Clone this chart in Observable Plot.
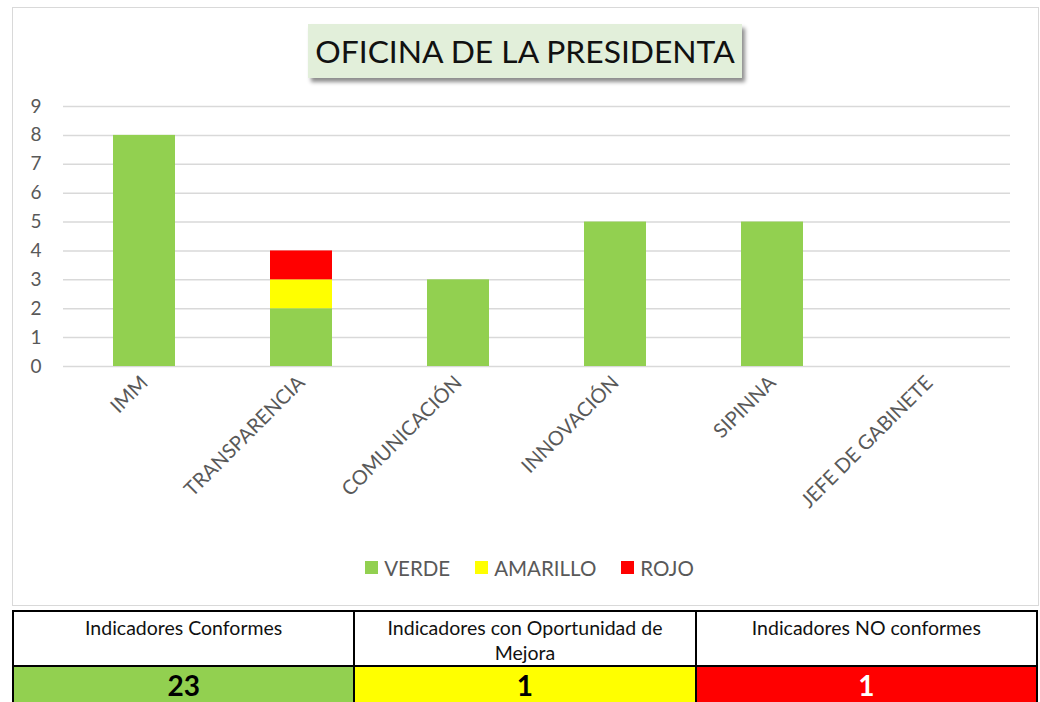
<!DOCTYPE html>
<html><head><meta charset="utf-8">
<script src="https://cdn.jsdelivr.net/npm/d3@7"></script>
<script src="https://cdn.jsdelivr.net/npm/@observablehq/plot@0.6"></script>
<style>
body{margin:0;background:#fff;font-family:Lato,"Open Sans",sans-serif;}
#wrap{position:relative;width:1040px;height:702px;overflow:hidden;}
#frame{position:absolute;left:12px;top:7px;width:1027px;height:599px;border:1.5px solid #d9d9d9;box-sizing:border-box;}
#chart{position:absolute;left:0;top:0;}
#title{position:absolute;left:308px;top:24px;width:434px;height:54px;background:#E2EFDA;box-shadow:3px 4px 4px rgba(0,0,0,0.45);display:flex;align-items:center;justify-content:center;font-size:31.8px;color:#111;white-space:nowrap;}
#legend{position:absolute;left:0;top:551px;width:1084px;display:flex;justify-content:center;}
.lg-swatch{margin-right:25px !important;}
.lg-swatch>svg{margin-right:6px !important;}
#summary{position:absolute;left:12px;top:610px;width:1026px;border-collapse:collapse;table-layout:fixed;}
#summary td{border:2px solid #000;text-align:center;}
#summary tr.h td{height:49px;vertical-align:top;font-size:19.5px;line-height:25px;padding:3px 12px 0 12px;color:#111;}
#summary tr.v td{height:35px;font-size:28px;line-height:30px;font-weight:bold;padding:0;vertical-align:middle;}
</style></head>
<body>
<div id="wrap">
  <div id="frame"></div>
  <div id="chart"></div>
  <div id="title"></div>
  <div id="legend"></div>
  <table id="summary"><tbody><tr class="h"></tr><tr class="v"></tr></tbody></table>
</div>
<script>
const chartTitle = "OFICINA DE LA PRESIDENTA";
const categories = ["IMM", "TRANSPARENCIA", "COMUNICACIÓN", "INNOVACIÓN", "SIPINNA", "JEFE DE GABINETE"];
const verde    = [8, 2, 3, 5, 5, 0];
const amarillo = [0, 1, 0, 0, 0, 0];
const rojo     = [0, 1, 0, 0, 0, 0];
const seriesNames  = ["VERDE", "AMARILLO", "ROJO"];
const seriesColors = ["#92D050", "#FFFF00", "#FF0000"];
const yTicks = [0, 1, 2, 3, 4, 5, 6, 7, 8, 9];
const summaryLabels = ["Indicadores Conformes", "Indicadores con Oportunidad de Mejora", "Indicadores NO conformes"];
const summaryValues = [23, 1, 1];
const summaryFills  = ["#92D050", "#FFFF00", "#FF0000"];
const summaryText   = ["#000", "#000", "#fff"];

const FONT = "Lato, 'Open Sans', sans-serif";
const seriesValues = [verde, amarillo, rojo];
const rows = [];
categories.forEach((c, i) => seriesNames.forEach((s, j) => {
  if (seriesValues[j][i] > 0) rows.push({cat: c, series: s, value: seriesValues[j][i]});
}));

document.getElementById("title").textContent = chartTitle;

const chart = Plot.plot({
  width: 1040, height: 545,
  marginTop: 106, marginBottom: 179, marginLeft: 63, marginRight: 30,
  style: {fontFamily: FONT, color: "#595959", background: "transparent", overflow: "visible"},
  x: {domain: categories, paddingInner: 0.607, paddingOuter: 0.3035, label: null},
  y: {domain: [0, 9], label: null},
  color: {domain: seriesNames, range: seriesColors},
  marks: [
    Plot.gridY(yTicks, {stroke: "#d9d9d9", strokeOpacity: 1, strokeWidth: 1.5}),
    Plot.barY(rows, {x: "cat", y: "value", fill: "series", order: seriesNames}),
    Plot.axisY(yTicks, {tickSize: 0, tickPadding: 22, fontSize: 19, fill: "#595959", label: null}),
    Plot.axisX({tickSize: 0, tickPadding: 13, tickRotate: -45, fontSize: 20, fill: "#595959", label: null})
  ]
});
document.getElementById("chart").appendChild(chart);

const leg = chart.legend("color", {swatchSize: 13, className: "lg", style: {fontFamily: FONT, fontSize: "20.5px", color: "#595959"}});
document.getElementById("legend").appendChild(leg);

const hr = document.querySelector("#summary tr.h");
const vr = document.querySelector("#summary tr.v");
summaryLabels.forEach((t, i) => {
  const td = document.createElement("td"); td.textContent = t; hr.appendChild(td);
  const tv = document.createElement("td"); tv.textContent = summaryValues[i];
  tv.style.background = summaryFills[i]; tv.style.color = summaryText[i]; vr.appendChild(tv);
});
</script>
</body></html>
